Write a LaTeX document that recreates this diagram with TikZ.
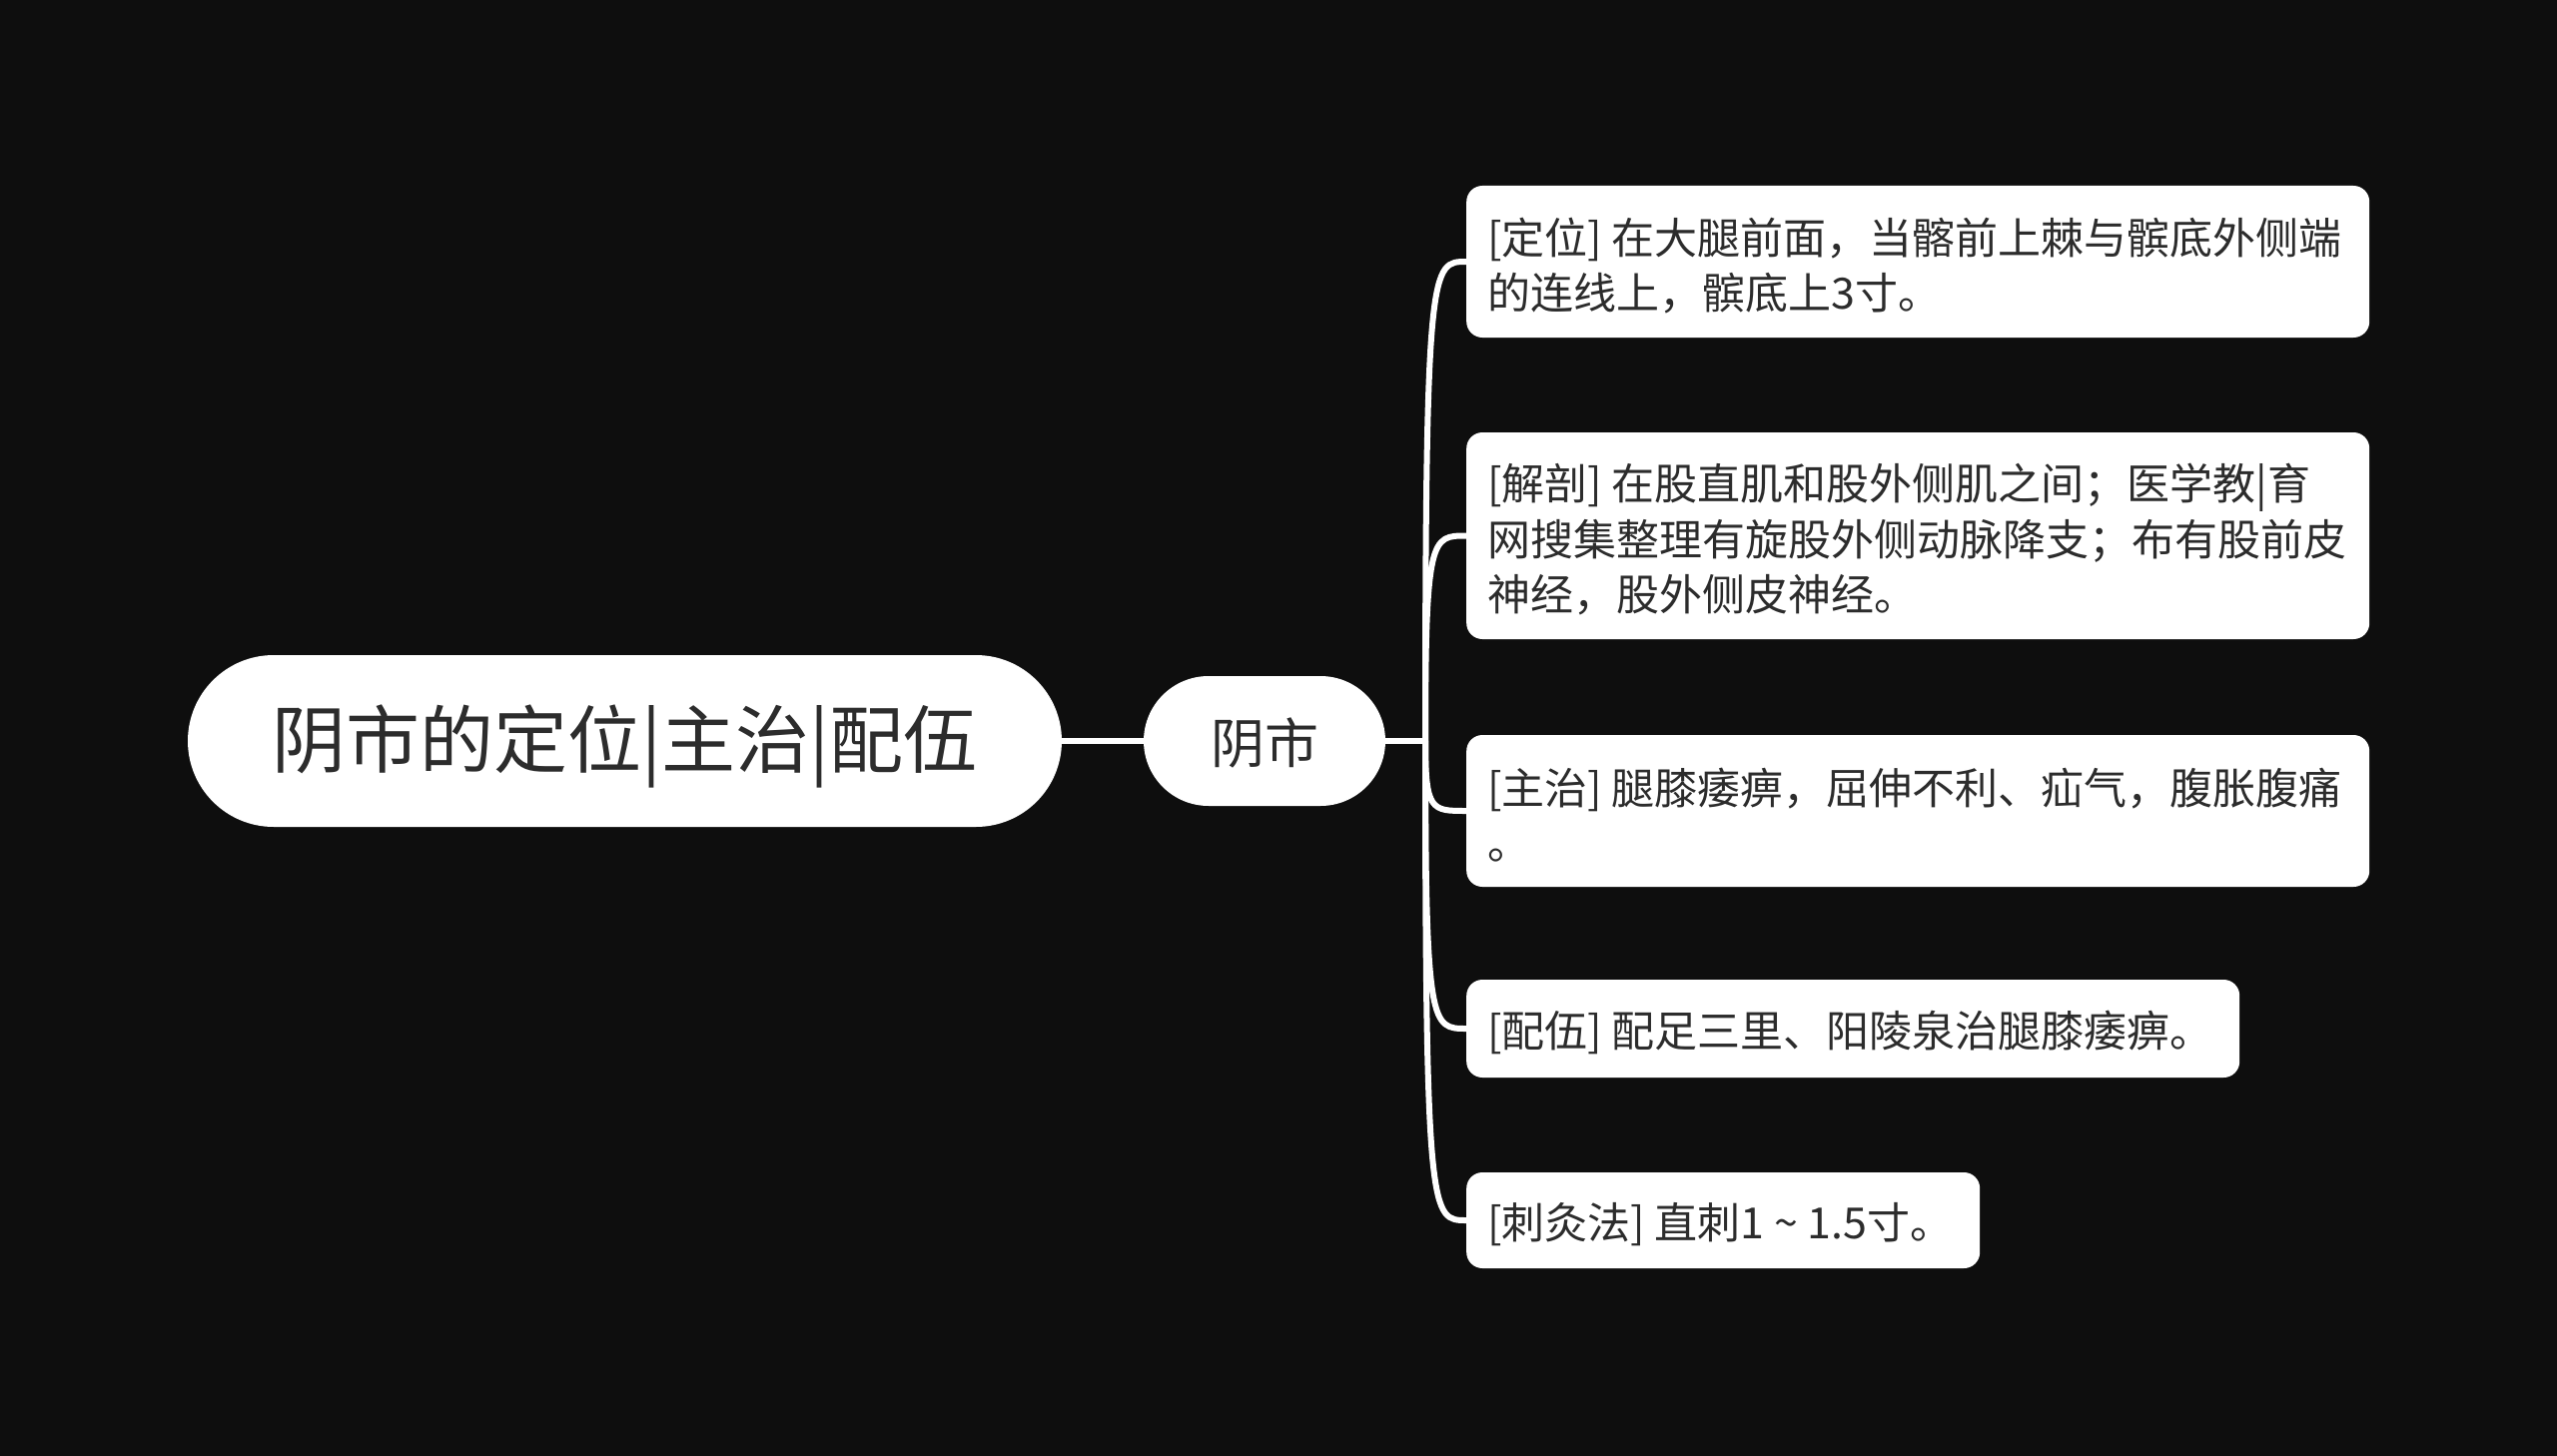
\documentclass[tikz,border=0pt]{standalone}
\usepackage{fontspec}
\setmainfont{Noto Sans CJK SC}
\usetikzlibrary{calc}
\definecolor{bg}{RGB}{14,14,14}
\definecolor{txt}{RGB}{44,44,44}
\newcommand{\lowerby}[2]{\raisebox{-#1}[\height][\depth]{#2}}
\newcommand{\leaftext}[2]{\lowerby{4pt}{\parbox[c]{#1}{\raggedright #2}}}
\tikzset{
  conn/.style={draw=white, line width=6pt},
  pill/.style={fill=white, text=txt, inner sep=0pt, align=center},
  leaf/.style={fill=white, text=txt, rounded corners=16pt, inner xsep=21pt, inner ysep=0pt,
     anchor=west, font=\fontsize{43}{55.5}\selectfont},
}
\begin{document}
\begin{tikzpicture}[x=1pt,y=-1pt]
\fill[bg] (0,0) rectangle (2560,1458);
\useasboundingbox (0,0) rectangle (2560,1458);

\node[pill, minimum width=875pt, minimum height=172pt, rounded corners=86pt,
      font=\fontsize{74}{80}\selectfont] (root) at (625.5,742) {\lowerby{5pt}{阴市的定位|主治|配伍}};
\node[pill, minimum width=242pt, minimum height=130pt, rounded corners=65pt,
      font=\fontsize{54}{60}\selectfont] (ys) at (1266,742) {\lowerby{2pt}{阴市}};

\node[leaf, minimum height=152pt] (l1) at (1468,262)
  {\leaftext{862pt}{[定位] 在大腿前面，当髂前上棘与髌底外侧端\\的连线上，髌底上3寸。}};
\node[leaf, minimum height=207pt] (l2) at (1468,536.5)
  {\leaftext{862pt}{[解剖] 在股直肌和股外侧肌之间；医学教|育\\网搜集整理有旋股外侧动脉降支；布有股前皮\\神经，股外侧皮神经。}};
\node[leaf, minimum height=152pt] (l3) at (1468,812)
  {\leaftext{862pt}{[主治] 腿膝痿痹，屈伸不利、疝气，腹胀腹痛\\。}};
\node[leaf, minimum height=98pt] (l4) at (1468,1030)
  {\lowerby{4pt}{\makebox[732pt][l]{[配伍] 配足三里、阳陵泉治腿膝痿痹。}}};
\node[leaf, minimum height=96pt] (l5) at (1468,1222)
  {\lowerby{4pt}{\makebox[472pt][l]{[刺灸法] 直刺1 \textasciitilde\ 1.5寸。}}};

\coordinate (hub) at (1427,742);
\draw[conn] (root.east) -- (ys.west);
\draw[conn] (ys.east) -- (hub);
\foreach \n in {l1,l2,l3,l4,l5}{
  \draw[conn, line cap=round] (hub) .. controls (hub |- \n.west) and ($(hub |- \n.west)+(6,0)$) .. (\n.west);
}
\end{tikzpicture}
\end{document}
